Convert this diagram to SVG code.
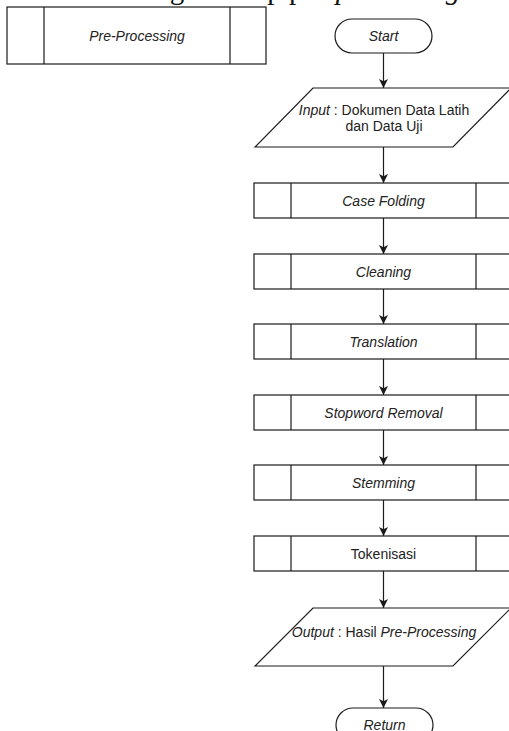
<svg xmlns="http://www.w3.org/2000/svg" width="509" height="731" viewBox="0 0 509 731">
  <style>
    .shape { fill: #ffffff; stroke: #1a1a1a; stroke-width: 1.2; }
    .div { stroke: #1a1a1a; stroke-width: 1.2; fill: none; }
    .edge { stroke: #1a1a1a; stroke-width: 1.2; fill: none; marker-end: url(#arrow); }
    .lbl { font-family: "Liberation Sans", Arial, sans-serif; font-size: 14px; fill: #222222; text-anchor: middle; }
    .it { font-style: italic; }
    .body { font-family: "Liberation Serif", "Times New Roman", serif; font-size: 29px; fill: #111111; }
  </style>
  <defs>
    <marker id="arrow" viewBox="0 0 10 10" refX="10" refY="5" markerWidth="9" markerHeight="9" markerUnits="userSpaceOnUse" orient="auto">
      <path d="M0,0 L10,5 L0,10 L2.5,5 Z" fill="#1a1a1a"/>
    </marker>
  </defs>
  <rect width="509" height="731" fill="#ffffff"/>

  <!-- running sentence above the chart, clipped at the page edge -->
  <text class="body" x="66" y="-1">awal dengan tahap pre-<tspan font-style="italic">processing</tspan> teks</text>

  <!-- legend: predefined process -->
  <g id="legend-preprocessing">
    <rect class="shape" x="7" y="7" width="259" height="57"/>
    <line class="div" x1="44" y1="7" x2="44" y2="64"/>
    <line class="div" x1="230" y1="7" x2="230" y2="64"/>
    <text class="lbl it" x="137" y="41">Pre-Processing</text>
  </g>

  <g id="connectors">
    <line class="edge" x1="383.5" y1="53" x2="383.5" y2="88"/>
    <line class="edge" x1="383.5" y1="147" x2="383.5" y2="183"/>
    <line class="edge" x1="383.5" y1="218" x2="383.5" y2="254"/>
    <line class="edge" x1="383.5" y1="289" x2="383.5" y2="324"/>
    <line class="edge" x1="383.5" y1="359" x2="383.5" y2="395"/>
    <line class="edge" x1="383.5" y1="430" x2="383.5" y2="465"/>
    <line class="edge" x1="383.5" y1="500" x2="383.5" y2="536"/>
    <line class="edge" x1="383.5" y1="571" x2="383.5" y2="608"/>
    <line class="edge" x1="383.5" y1="666" x2="383.5" y2="708"/>
  </g>

  <g id="start">
    <rect class="shape" x="335" y="19" width="97" height="34" rx="17" ry="17"/>
    <text class="lbl it" x="383.5" y="41">Start</text>
  </g>

  <g id="input">
    <polygon class="shape" points="313,88 511,88 453,147 255,147"/>
    <text class="lbl" x="384" y="115"><tspan font-style="italic">Input</tspan> : Dokumen Data Latih</text>
    <text class="lbl" x="384" y="131">dan Data Uji</text>
  </g>

  <g id="case-folding">
    <rect class="shape" x="254" y="183" width="259" height="35"/>
    <line class="div" x1="291" y1="183" x2="291" y2="218"/>
    <line class="div" x1="476" y1="183" x2="476" y2="218"/>
    <text class="lbl it" x="383.5" y="205.5">Case Folding</text>
  </g>

  <g id="cleaning">
    <rect class="shape" x="254" y="254" width="259" height="35"/>
    <line class="div" x1="291" y1="254" x2="291" y2="289"/>
    <line class="div" x1="476" y1="254" x2="476" y2="289"/>
    <text class="lbl it" x="383.5" y="276.5">Cleaning</text>
  </g>

  <g id="translation">
    <rect class="shape" x="254" y="324" width="259" height="35"/>
    <line class="div" x1="291" y1="324" x2="291" y2="359"/>
    <line class="div" x1="476" y1="324" x2="476" y2="359"/>
    <text class="lbl it" x="383.5" y="346.5">Translation</text>
  </g>

  <g id="stopword-removal">
    <rect class="shape" x="254" y="395" width="259" height="35"/>
    <line class="div" x1="291" y1="395" x2="291" y2="430"/>
    <line class="div" x1="476" y1="395" x2="476" y2="430"/>
    <text class="lbl it" x="383.5" y="417.5">Stopword Removal</text>
  </g>

  <g id="stemming">
    <rect class="shape" x="254" y="465" width="259" height="35"/>
    <line class="div" x1="291" y1="465" x2="291" y2="500"/>
    <line class="div" x1="476" y1="465" x2="476" y2="500"/>
    <text class="lbl it" x="383.5" y="487.5">Stemming</text>
  </g>

  <g id="tokenisasi">
    <rect class="shape" x="254" y="536" width="259" height="35"/>
    <line class="div" x1="291" y1="536" x2="291" y2="571"/>
    <line class="div" x1="476" y1="536" x2="476" y2="571"/>
    <text class="lbl" x="383.5" y="558.5">Tokenisasi</text>
  </g>

  <g id="output">
    <polygon class="shape" points="313,608 511,608 453,666 255,666"/>
    <text class="lbl" x="384" y="637"><tspan font-style="italic">Output</tspan> : Hasil <tspan font-style="italic">Pre-Processing</tspan></text>
  </g>

  <g id="return">
    <rect class="shape" x="336" y="708" width="97" height="34" rx="17" ry="17"/>
    <text class="lbl it" x="384.5" y="730">Return</text>
  </g>
</svg>
